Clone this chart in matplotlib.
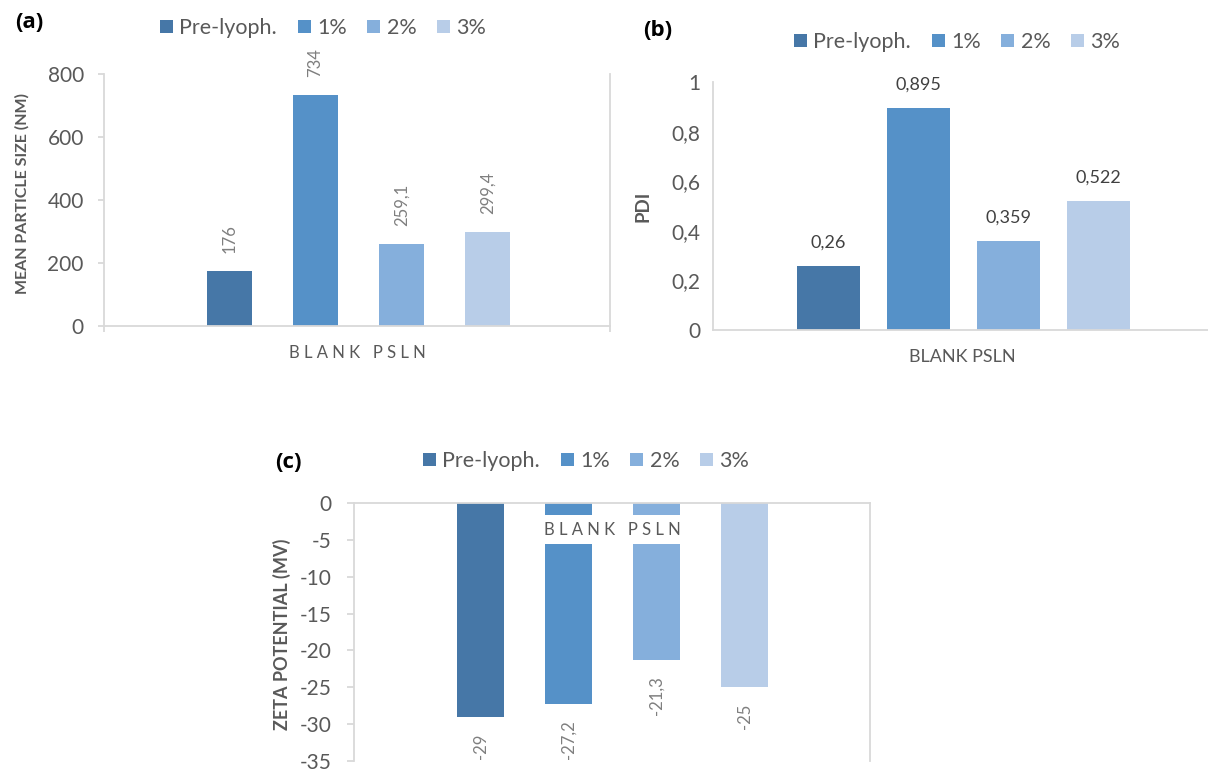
import matplotlib
matplotlib.use('Agg')
import matplotlib.pyplot as plt
from matplotlib.patches import Patch

plt.rcParams['font.family'] = ['Lato', 'DejaVu Sans']

# lyophilisation series (cryoprotectant %)
groups = ['Pre-lyoph.', '1%', '2%', '3%']
colors = ['#4677A7', '#5591C8', '#85AFDC', '#B8CDE8']
category = 'BLANK PSLN'

size_nm = [176, 734, 259.1, 299.4]
pdi = [0.26, 0.895, 0.359, 0.522]
zeta_mv = [-29, -27.2, -21.3, -25]

size_ticks = [0, 200, 400, 600, 800]
pdi_ticks = [0, 0.2, 0.4, 0.6, 0.8, 1]
zeta_ticks = [0, -5, -10, -15, -20, -25, -30, -35]

AXIS = '#D9D9D9'
TXT = '#595959'
W, H = 1208, 772


def comma(v):
    return f'{v:g}'.replace('.', ',')


def px_axes(left, top, right, bottom):
    return [left / W, 1 - bottom / H, (right - left) / W, (bottom - top) / H]


def bars(ax, values, width, step=0.2):
    xs = [(i - 1.5) * step for i in range(len(values))]
    return ax.bar(xs, values, width=width, color=colors, zorder=2), xs


def style(ax, ticks, tick_len, pad):
    for s in ax.spines.values():
        s.set_color(AXIS)
        s.set_linewidth(1.3)
    ax.set_yticks(ticks)
    ax.set_yticklabels([comma(t) for t in ticks])
    ax.tick_params(axis='y', colors=AXIS, labelcolor=TXT, labelsize=15,
                   length=tick_len, width=1.3, pad=pad)


fig = plt.figure(figsize=(W / 100, H / 100), dpi=100)

# (a) mean particle size
ax_a = fig.add_axes(px_axes(104, 74, 610, 326))
bars_a, xs_a = bars(ax_a, size_nm, 0.105)
ax_a.set_xlim(-0.592, 0.585)
ax_a.set_ylim(0, 800)
style(ax_a, size_ticks, 4.5, 10)
ax_a.spines['top'].set_visible(False)
ax_a.set_xticks(ax_a.get_xlim())
ax_a.set_xticklabels([])
ax_a.tick_params(axis='x', colors=AXIS, length=4.5, width=1.3)
for x, v in zip(xs_a, size_nm):
    ax_a.annotate(comma(v), (x, v), xytext=(0, 13), textcoords='offset points',
                  rotation=90, ha='center', va='bottom', fontsize=12, color='#7F7F7F')
fig.text(357 / W, 1 - 353 / H, 'B L A N K   P S L N', ha='center', va='center',
         fontsize=12, color=TXT)
fig.text(22 / W, 1 - 194 / H, 'MEAN PARTICLE SIZE (NM)', rotation=90,
         ha='center', va='center', fontsize=11.5, fontweight='bold', color=TXT)

# (b) polydispersity index
ax_b = fig.add_axes(px_axes(713, 82, 1208, 330))
bars_b, xs_b = bars(ax_b, pdi, 0.14)
ax_b.set_xlim(-0.556, 0.544)
ax_b.set_ylim(0, 1)
style(ax_b, pdi_ticks, 0, 9)
ax_b.spines['top'].set_visible(False)
ax_b.spines['right'].set_visible(False)
ax_b.set_xticks([])
for x, v in zip(xs_b, pdi):
    ax_b.annotate(comma(v), (x, v), xytext=(0, 11), textcoords='offset points',
                  ha='center', va='bottom', fontsize=13, color='#404040')
fig.text(962 / W, 1 - 357 / H, category, ha='center', va='center',
         fontsize=13, color=TXT)
fig.text(643 / W, 1 - 206 / H, 'PDI', rotation=90, ha='center', va='center',
         fontsize=13.5, fontweight='bold', color=TXT)

# (c) zeta potential
ax_c = fig.add_axes(px_axes(354, 503, 870, 761))
bars_c, xs_c = bars(ax_c, zeta_mv, 0.107)
ax_c.set_xlim(-0.5875, 0.585)
ax_c.set_ylim(-35, 0)
style(ax_c, zeta_ticks, 5, 11)
ax_c.spines['bottom'].set_visible(False)
ax_c.set_xticks([])
for x, v in zip(xs_c, zeta_mv):
    ax_c.annotate(comma(v), (x, v), xytext=(0, -12), textcoords='offset points',
                  rotation=90, ha='center', va='top', fontsize=12, color='#7F7F7F')
ax_c.text(0, -3.6, 'B L A N K   P S L N', ha='center', va='center', fontsize=12,
          color=TXT, zorder=3,
          bbox=dict(facecolor='white', edgecolor='none', pad=4.5))
fig.text(282 / W, 1 - 634 / H, 'ZETA POTENTIAL (MV)', rotation=90,
         ha='center', va='center', fontsize=13, fontweight='bold', color=TXT)

# legends and panel letters
handles = [Patch(facecolor=c, edgecolor='none') for c in colors]
for cx, cy in [(323, 28), (957, 42), (586, 461)]:
    fig.legend(handles, groups, loc='center', bbox_to_anchor=(cx / W, 1 - cy / H),
               ncol=4, frameon=False, fontsize=15.5, labelcolor=TXT,
               handlelength=0.6, handleheight=0.6, handletextpad=0.3,
               columnspacing=0.95, borderpad=0, borderaxespad=0)

for letter, px, py in [('(a)', 29, 23), ('(b)', 658, 31), ('(c)', 288, 463)]:
    fig.text(px / W, 1 - py / H, letter, ha='center', va='center',
             fontsize=16, fontweight='bold', family='Open Sans', color='black')

fig.savefig('out.png', dpi=100)
